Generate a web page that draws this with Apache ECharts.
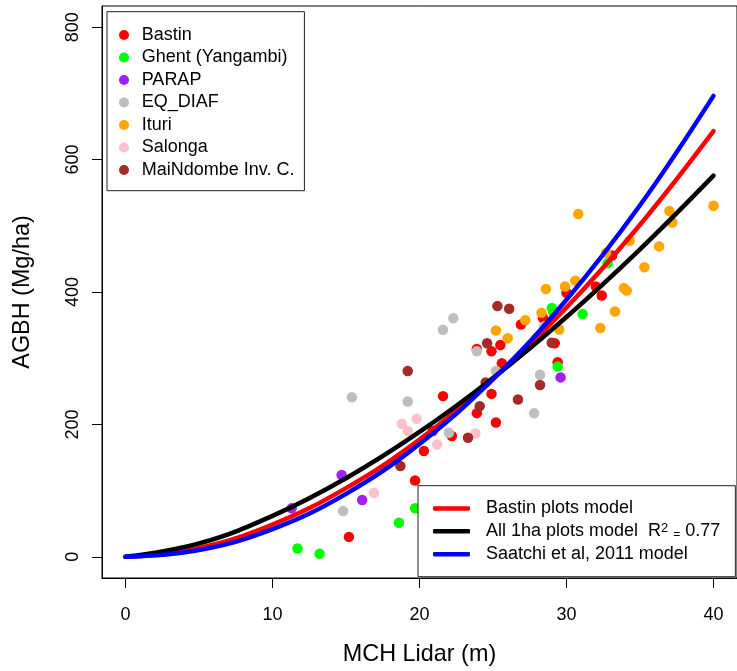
<!DOCTYPE html>
<html>
<head>
<meta charset="utf-8">
<script src="https://cdn.jsdelivr.net/npm/echarts@6/dist/echarts.min.js"></script>
<style>
  html, body { margin: 0; padding: 0; background: #fff; }
  #chart { width: 737px; height: 671px; }
</style>
</head>
<body>
<div id="chart"></div>
<script>
// scatter points [MCH, AGBH] per source
const bastin = [[21.6,242.7],[26.9,350.9],[28.4,360.7],[25.5,320.0],[24.9,310.5],[23.9,313.9],[25.6,292.4],[24.9,246.1],[23.9,217.0],[33.1,455.2],[32.0,408.4],[32.4,394.6],[30.0,398.8],[29.2,322.5],[29.4,293.9],[25.2,202.9],[20.9,189.9],[22.2,182.4],[20.3,159.8],[19.7,115.4],[15.2,30.1]];
const ghent = [[32.8,443.6],[31.1,366.7],[29.0,375.7],[29.1,369.7],[29.4,287.3],[19.7,73.2],[18.6,51.4],[11.7,12.5],[13.2,4.5]];
const parap = [[29.6,271.0],[14.7,123.6],[11.3,73.2],[16.1,85.9]];
const eqDiaf = [[15.4,241.1],[19.2,234.5],[21.6,343.0],[22.3,360.4],[23.9,310.5],[25.2,280.8],[28.5,348.3],[28.2,275.1],[27.8,216.7],[22.0,187.3],[14.8,69.3]];
const ituri = [[28.6,404.6],[28.3,368.7],[27.2,357.2],[25.2,341.8],[26.0,330.2],[28.0,331.3],[29.5,343.3],[29.9,408.4],[30.6,416.9],[30.8,517.9],[32.7,459.4],[34.3,477.5],[36.3,468.9],[35.3,437.5],[33.9,405.9],[34.1,402.1],[33.3,370.5],[32.3,345.6],[37.0,522.4],[37.2,505.0],[40.0,530.2]];
const salonga = [[19.8,208.5],[18.8,200.9],[19.2,189.9],[21.2,169.7],[23.8,186.3],[16.9,96.5]];
const maiNdombe = [[19.2,280.8],[25.3,378.7],[26.1,374.7],[24.6,322.5],[24.5,263.2],[24.1,227.6],[26.7,237.5],[28.2,259.4],[29.0,323.4],[18.7,137.1],[23.3,179.8]];

// model curves
const modelX = [0, 5, 10, 15, 20, 25, 30, 35, 40];
const bastinModel = [0, 13.4, 48.8, 103.7, 177.1, 268.3, 376.5, 501.6, 643];
const allModel = [0, 20.2, 61.8, 118.7, 188.6, 270.1, 362.3, 464.4, 575.7];
const saatchiModel = [0, 10.2, 41.8, 95.1, 170.5, 268.2, 388.3, 531, 696.3];

const xTicks = [0, 10, 20, 30, 40];
const yTicks = [0, 200, 400, 600, 800];

const FONT = 'Liberation Sans, Arial, Helvetica, sans-serif';

function pairs(xs, ys) {
  return xs.map((x, i) => [x, ys[i]]);
}

function pointSeries(name, data, color) {
  return {
    type: 'scatter',
    name: name,
    data: data,
    symbol: 'circle',
    symbolSize: 10.5,
    itemStyle: { color: color, opacity: 1 },
    z: 2
  };
}

function modelSeries(name, ys, color) {
  return {
    type: 'line',
    name: name,
    data: pairs(modelX, ys),
    smooth: 0.4,
    symbol: 'none',
    lineStyle: { color: color, width: 4.5, cap: 'round' },
    itemStyle: { color: color },
    z: 3
  };
}

const myChart = echarts.init(document.getElementById('chart'), null, { renderer: 'canvas' });

const option = {
  animation: false,
  backgroundColor: '#fff',
  grid: {
    left: 102, top: 6, width: 641, height: 574,
    show: true, borderColor: '#000', borderWidth: 1, backgroundColor: 'transparent'
  },
  xAxis: {
    type: 'value',
    min: -1.6, max: 41.6,
    name: 'MCH Lidar (m)',
    nameLocation: 'middle',
    nameGap: 65,
    nameTextStyle: { color: '#000', fontSize: 23.4, fontFamily: FONT },
    axisLine: { show: true, onZero: false, lineStyle: { color: '#000', width: 1 } },
    axisTick: { show: true, length: 10, customValues: xTicks, lineStyle: { color: '#000' } },
    axisLabel: { customValues: xTicks, color: '#000', fontSize: 18, fontFamily: FONT, margin: 28 },
    splitLine: { show: false }
  },
  yAxis: {
    type: 'value',
    min: -32, max: 832,
    name: 'AGBH (Mg/ha)',
    nameLocation: 'middle',
    nameGap: 68,
    nameTextStyle: { color: '#000', fontSize: 23.4, fontFamily: FONT },
    axisLine: { show: true, onZero: false, lineStyle: { color: '#000', width: 1 } },
    axisTick: { show: true, length: 10, customValues: yTicks, lineStyle: { color: '#000' } },
    axisLabel: { customValues: yTicks, rotate: 90, color: '#000', fontSize: 18, fontFamily: FONT, margin: 20 },
    splitLine: { show: false }
  },
  legend: [
    {
      data: ['Bastin', 'Ghent (Yangambi)', 'PARAP', 'EQ_DIAF', 'Ituri', 'Salonga', 'MaiNdombe Inv. C.'],
      orient: 'vertical',
      left: 107, top: 11.7,
      padding: [14.3, 10, 11.7, 12],
      icon: 'circle',
      itemWidth: 10, itemHeight: 10,
      itemGap: 4.5,
      borderColor: '#222', borderWidth: 1,
      backgroundColor: '#fff',
      selectedMode: false,
      textStyle: { color: '#000', fontSize: 18, lineHeight: 18, fontFamily: FONT, padding: [0, 0, 0, 7.7] }
    },
    {
      data: ['Bastin plots model', 'All 1ha plots model', 'Saatchi et al, 2011 model'],
      orient: 'vertical',
      left: 418, top: 485.7,
      padding: [13.7, 15, 13.5, 15],
      icon: 'roundRect',
      itemWidth: 37, itemHeight: 4.5,
      itemGap: 4.9,
      borderColor: '#222', borderWidth: 1,
      backgroundColor: '#fff',
      selectedMode: false,
      formatter: function (name) {
        if (name === 'All 1ha plots model') {
          return name + '  R{sup|2}{eq|=}0.77';
        }
        return name;
      },
      textStyle: {
        color: '#000', fontSize: 18, lineHeight: 18, fontFamily: FONT,
        padding: [0, 0, 0, 11],
        rich: {
          sup: { fontSize: 13, lineHeight: 13, verticalAlign: 'top', fontFamily: FONT, color: '#000' },
          eq: { fontSize: 12, lineHeight: 12, verticalAlign: 'bottom', fontFamily: FONT, color: '#000', padding: [0, 5, 0, 5] }
        }
      }
    }
  ],
  series: [
    pointSeries('Bastin', bastin, '#FF0000'),
    pointSeries('Ghent (Yangambi)', ghent, '#00FF00'),
    pointSeries('PARAP', parap, '#A020F0'),
    pointSeries('EQ_DIAF', eqDiaf, '#BEBEBE'),
    pointSeries('Ituri', ituri, '#FFA500'),
    pointSeries('Salonga', salonga, '#FFC0CB'),
    pointSeries('MaiNdombe Inv. C.', maiNdombe, '#A52A2A'),
    modelSeries('Bastin plots model', bastinModel, '#FF0000'),
    modelSeries('All 1ha plots model', allModel, '#000000'),
    modelSeries('Saatchi et al, 2011 model', saatchiModel, '#0000FF')
  ]
};

myChart.setOption(option);
</script>
</body>
</html>
